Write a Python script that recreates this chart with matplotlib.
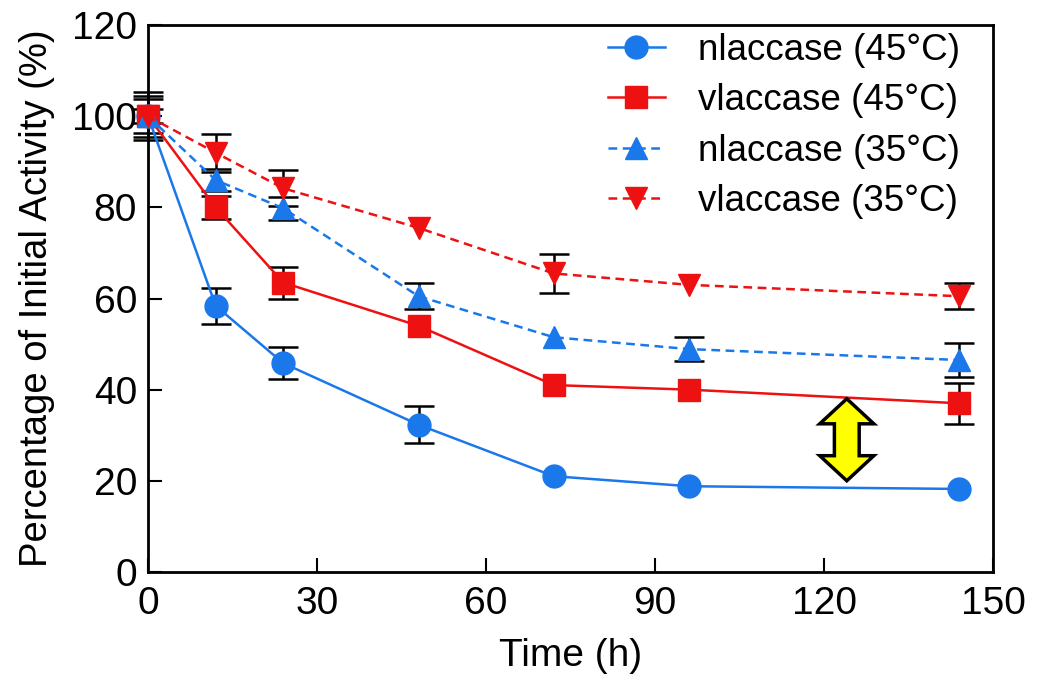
import numpy as np
import matplotlib.pyplot as plt
from matplotlib.patches import Polygon

plt.rcParams['font.family'] = ['Liberation Sans', 'DejaVu Sans']

# data (0 = error bar hidden behind the marker)
time_h = [0, 12, 24, 48, 72, 96, 144]

nl45 = [100, 58.4, 45.8, 32.3, 21.0, 18.8, 18.2]
nl45_err = [4.5, 4.0, 3.5, 4.0, 0, 0, 0]

vl45 = [100, 80.0, 63.5, 54.0, 41.0, 40.0, 37.0]
vl45_err = [1.5, 2.5, 3.5, 0, 0, 0, 4.5]

nl35 = [100, 86.0, 79.8, 60.5, 51.5, 48.9, 46.5]
nl35_err = [5.3, 2.5, 2.5, 2.8, 0, 2.7, 3.7]

vl35 = [100, 92.0, 84.2, 75.5, 65.5, 63.0, 60.5]
vl35_err = [3.7, 4.2, 4.0, 0, 4.3, 0, 2.9]

labels = ['nlaccase (45°C)', 'vlaccase (45°C)', 'nlaccase (35°C)', 'vlaccase (35°C)']

# double arrow between the two 45°C curves
arrow_x = 124
arrow_top = 38
arrow_bottom = 20

blue = '#1a78ea'
red = '#ee1111'

fig = plt.figure(figsize=(10.5, 6.8), dpi=100)
ax = fig.add_axes([0.141, 0.159, 0.805, 0.804])

series = [
    (nl45, nl45_err, blue, 'o', '-', 16.5),
    (vl45, vl45_err, red, 's', '-', 15.5),
    (nl35, nl35_err, blue, '^', '--', 16),
    (vl35, vl35_err, red, 'v', '--', 16),
]

for (y, err, c, m, ls, ms), lab in zip(series, labels):
    x_e = np.array(time_h)
    y_e = np.array(y)
    e = np.array(err)
    keep = e > 0
    ax.errorbar(x_e[keep], y_e[keep], yerr=e[keep], fmt='none', ecolor='black',
                elinewidth=1.8, capsize=11, capthick=1.8, zorder=2, clip_on=False)
    line, = ax.plot(time_h, y, color=c, marker=m, markersize=ms, lw=1.8,
                    linestyle=ls, label=lab, zorder=3, clip_on=False)
    if ls == '--':
        line.set_dashes((3.5, 2.2))

# yellow double arrow
head_h = 5.5
head_w = 4.8
shaft_w = 2.2
arrow_pts = [
    (arrow_x, arrow_top),
    (arrow_x + head_w, arrow_top - head_h),
    (arrow_x + shaft_w, arrow_top - head_h),
    (arrow_x + shaft_w, arrow_bottom + head_h),
    (arrow_x + head_w, arrow_bottom + head_h),
    (arrow_x, arrow_bottom),
    (arrow_x - head_w, arrow_bottom + head_h),
    (arrow_x - shaft_w, arrow_bottom + head_h),
    (arrow_x - shaft_w, arrow_top - head_h),
    (arrow_x - head_w, arrow_top - head_h),
]
ax.add_patch(Polygon(arrow_pts, closed=True, facecolor='#ffff00',
                     edgecolor='black', lw=2.5, joinstyle='miter', zorder=4))

ax.set_xlim(0, 150)
ax.set_ylim(0, 120)
ax.set_xticks([0, 30, 60, 90, 120, 150])
ax.set_yticks([0, 20, 40, 60, 80, 100, 120])
ax.tick_params(direction='in', length=10, width=1.5, labelsize=28)
ax.tick_params(axis='x', pad=10)
ax.tick_params(axis='y', pad=8)
for s in ax.spines.values():
    s.set_linewidth(2)

ax.set_xlabel('Time (h)', fontsize=28, labelpad=12)
ax.set_ylabel('Percentage of Initial Activity (%)', fontsize=27.5, labelpad=12)

leg = ax.legend(loc='upper right', frameon=False, fontsize=26.5,
                handlelength=1.55, handletextpad=0.9, labelspacing=0.42,
                borderaxespad=0.0, bbox_to_anchor=(0.978, 1.013))

fig.savefig('out.png', dpi=100)
